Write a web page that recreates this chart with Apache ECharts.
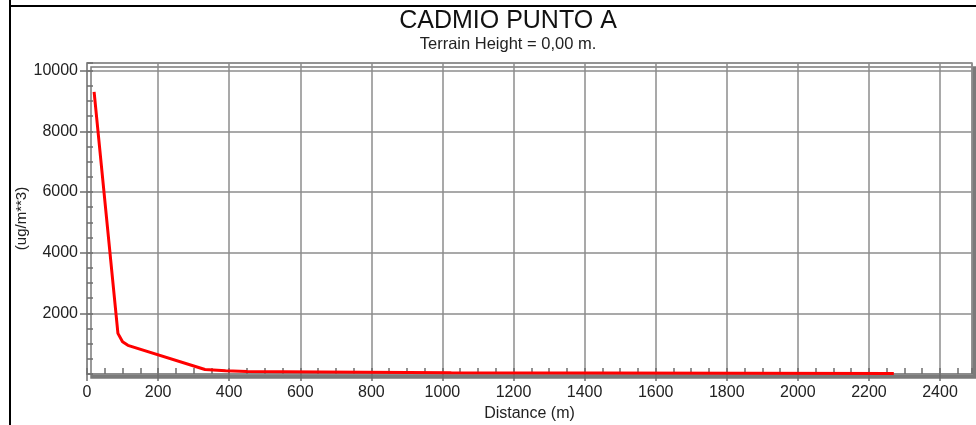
<!DOCTYPE html>
<html>
<head>
<meta charset="utf-8">
<script src="https://cdn.jsdelivr.net/npm/echarts@6/dist/echarts.min.js"></script>
<style>
  html, body { margin: 0; padding: 0; background: #fff; }
  #chart { width: 976px; height: 425px; }
</style>
</head>
<body>
<div id="chart"></div>
<script>
// Receptor distance (m) and concentration (ug/m**3)
const distances = [20, 87, 100, 115, 332, 390, 450, 660, 665, 1025, 1030, 2270];
const concentrations = [9300, 1340, 1060, 945, 150, 105, 85, 70, 50, 45, 25, 20];

const titleText = 'CADMIO PUNTO A';
const subtitleText = 'Terrain Height = 0,00 m.';
const xName = 'Distance (m)';
const yName = '(ug/m**3)';

const X_MAX = 2490;
const Y_MAX = 10250;

const gridColor = '#8c8c8c';
const tickColor = '#6e6e6e';
const fontFamily = 'Liberation Sans, Arial, sans-serif';
const labelFont = { fontFamily: fontFamily, fontSize: 16, color: '#222' };
const plain = v => String(v);

const chart = echarts.init(document.getElementById('chart'), null, { renderer: 'canvas' });

chart.setOption({
  animation: false,
  backgroundColor: '#fff',
  grid: {
    left: 87, top: 63, right: 4, bottom: 51,
    containLabel: false,
    outerBoundsMode: 'none',
    show: true,
    backgroundColor: '#fff',
    borderColor: gridColor,
    borderWidth: 1.5,
    shadowColor: '#7a7a7a',
    shadowBlur: 0,
    shadowOffsetX: 4,
    shadowOffsetY: 4
  },
  graphic: [
    { type: 'line', shape: { x1: 10, y1: 0, x2: 10, y2: 425 }, style: { stroke: '#000', lineWidth: 2 }, z: 100 },
    { type: 'line', shape: { x1: 10, y1: 6, x2: 976, y2: 6 }, style: { stroke: '#000', lineWidth: 2 }, z: 100 },
    { type: 'text', x: 508, y: 21, style: { text: titleText, fontFamily: fontFamily, fontSize: 25, fill: '#111', textAlign: 'center', textVerticalAlign: 'middle' }, z: 100 },
    { type: 'text', x: 508, y: 44, style: { text: subtitleText, fontFamily: fontFamily, fontSize: 16.5, fill: '#222', textAlign: 'center', textVerticalAlign: 'middle' }, z: 100 }
  ],
  xAxis: [
    {
      type: 'value', min: 0, max: X_MAX, interval: 200,
      name: xName, nameLocation: 'middle', nameGap: 30,
      nameTextStyle: labelFont,
      axisLine: { show: true, onZero: false, lineStyle: { color: gridColor, width: 1.5 } },
      axisTick: { show: true, inside: false, length: 7, lineStyle: { color: tickColor, width: 1.5 } },
      axisLabel: Object.assign({ margin: 11, showMaxLabel: false, formatter: plain }, labelFont),
      splitLine: { show: true, lineStyle: { color: gridColor, width: 1.5 } }
    },
    {
      type: 'value', min: 0, max: X_MAX, interval: 50, position: 'bottom',
      axisLine: { show: false },
      axisTick: { show: true, inside: true, length: 6, lineStyle: { color: tickColor, width: 1.5 } },
      axisLabel: { show: false },
      splitLine: { show: false }
    }
  ],
  yAxis: [
    {
      type: 'value', min: 0, max: Y_MAX, interval: 2000,
      name: yName, nameLocation: 'middle', nameGap: 58, nameRotate: 90,
      nameMoveOverlap: false,
      nameTextStyle: Object.assign({}, labelFont, { fontSize: 15 }),
      axisLine: { show: true, lineStyle: { color: gridColor, width: 1.5 } },
      axisTick: { show: true, inside: false, length: 7, lineStyle: { color: tickColor, width: 1.5 } },
      axisLabel: Object.assign({ margin: 9, showMinLabel: false, showMaxLabel: false, formatter: plain }, labelFont),
      splitLine: { show: true, lineStyle: { color: gridColor, width: 1.5 } }
    },
    {
      type: 'value', min: 0, max: Y_MAX, interval: 500, position: 'left',
      axisLine: { show: false },
      axisTick: { show: true, inside: true, length: 6, lineStyle: { color: tickColor, width: 1.5 } },
      axisLabel: { show: false },
      splitLine: { show: false }
    }
  ],
  series: [
    {
      type: 'line',
      xAxisIndex: 0, yAxisIndex: 0,
      data: distances.map((d, i) => [d, concentrations[i]]),
      showSymbol: false,
      smooth: false,
      lineStyle: { color: '#ff0000', width: 3 },
      z: 10
    }
  ]
});
</script>
</body>
</html>
